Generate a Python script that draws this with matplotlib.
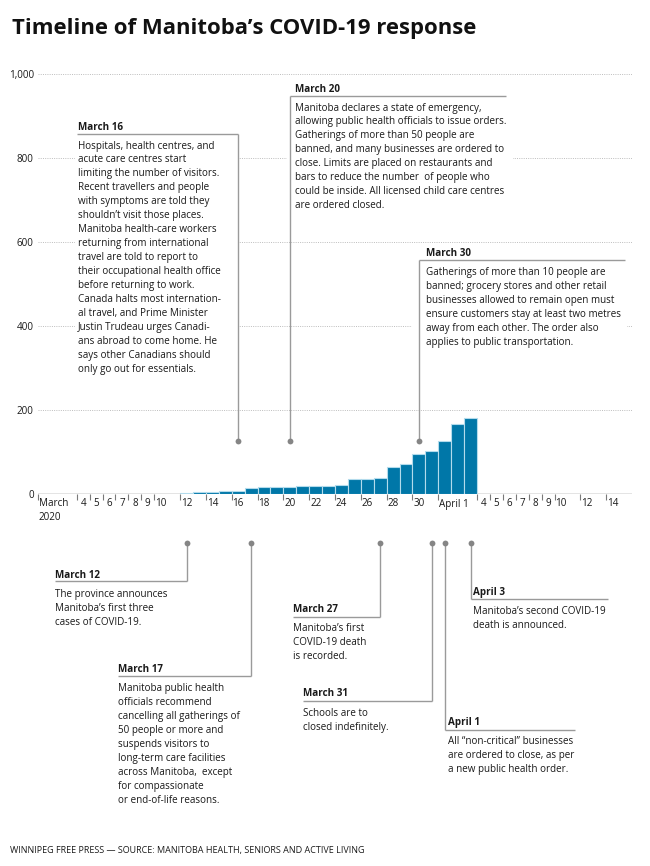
import matplotlib
matplotlib.use("Agg")
import matplotlib.pyplot as plt
from matplotlib import transforms as mtransforms
from matplotlib.patches import Rectangle

plt.rcParams['font.family'] = ['Open Sans', 'DejaVu Sans']

# ---------------- data ----------------
title = "Timeline of Manitoba\u2019s COVID-19 response"
footer = "WINNIPEG FREE PRESS \u2014 SOURCE: MANITOBA HEALTH, SENIORS AND ACTIVE LIVING"

# cumulative cases, March 12 .. April 3
case_month = ["March"] * 20 + ["April"] * 3
case_day = list(range(12, 32)) + [1, 2, 3]
cases = [3, 4, 4, 7, 8, 15, 17, 17, 17, 19, 20, 20, 21, 35, 36, 39, 64, 72, 96, 103, 127, 167, 182]

y_ticks = [0, 200, 400, 600, 800, 1000]
y_tick_labels = ["0", "200", "400", "600", "800", "1,000"]

x_tick_month = ["March"] * 18 + ["April"] * 10
x_tick_day = [1, 4, 5, 6, 7, 8, 9, 10, 12, 14, 16, 18, 20, 22, 24, 26, 28, 30,
              1, 4, 5, 6, 7, 8, 9, 10, 12, 14]
x_tick_text = ["March\n2020", "4", "5", "6", "7", "8", "9", "10", "12", "14", "16", "18", "20",
               "22", "24", "26", "28", "30", "April 1", "4", "5", "6", "7", "8", "9", "10", "12", "14"]

ev_month = ["March", "March", "March", "March", "March", "March", "March", "April", "April"]
ev_day = [16, 20, 30, 12, 17, 27, 31, 1, 3]
ev_title = ["March 16", "March 20", "March 30", "March 12", "March 17", "March 27",
            "March 31", "April 1", "April 3"]
ev_text = [
    ["Hospitals, health centres, and", "acute care centres start",
     "limiting the number of visitors.", "Recent travellers and people",
     "with symptoms are told they", "shouldn\u2019t visit those places.",
     "Manitoba health-care workers", "returning from international",
     "travel are told to report to", "their occupational health office",
     "before returning to work.", "Canada halts most internation-",
     "al travel, and Prime Minister", "Justin Trudeau urges Canadi-",
     "ans abroad to come home. He", "says other Canadians should",
     "only go out for essentials."],
    ["Manitoba declares a state of emergency,",
     "allowing public health officials to issue orders.",
     "Gatherings of more than 50 people are",
     "banned, and many businesses are ordered to",
     "close. Limits are placed on restaurants and",
     "bars to reduce the number  of people who",
     "could be inside. All licensed child care centres",
     "are ordered closed."],
    ["Gatherings of more than 10 people are",
     "banned; grocery stores and other retail",
     "businesses allowed to remain open must",
     "ensure customers stay at least two metres",
     "away from each other. The order also",
     "applies to public transportation."],
    ["The province announces", "Manitoba\u2019s first three", "cases of COVID-19."],
    ["Manitoba public health", "officials recommend", "cancelling all gatherings of",
     "50 people or more and", "suspends visitors to", "long-term care facilities",
     "across Manitoba,  except", "for compassionate", "or end-of-life reasons."],
    ["Manitoba\u2019s first", "COVID-19 death", "is recorded."],
    ["Schools are to", "closed indefinitely."],
    ["All \u201cnon-critical\u201d businesses", "are ordered to close, as per",
     "a new public health order."],
    ["Manitoba\u2019s second COVID-19", "death is announced."],
]

# ---------------- layout (pixels) ----------------
W, H = 650, 866
BLUE = "#0077a8"
GRAY = "#9a9a9a"
TXT = "#1a1a1a"
BODY = 7.15
LS = 13.95

ev_side = ["top", "top", "top", "bottom", "bottom", "bottom", "bottom", "bottom", "bottom"]
ev_tx = [78, 295, 426, 55, 118, 293, 303, 448, 473]
ev_hy = [127, 89, 254, 575, 669, 609, 694, 722, 592]
ev_rule = [134, 96, 260, 581, 676, 617, 701, 730, 599]
ev_far = [77, 506, 625, 55, 118, 293, 303, 575, 608]
ev_mask = [(75, 134, 238, 388), (287, 96, 513, 215), (412, 260, 627, 352),
           None, None, None, None, None, None]


def day_index(month, day):
    return day - 1 if month == "March" else 30 + day


def fy(py):
    return 1 - py / H


def fx(px):
    return px / W


fig = plt.figure(figsize=(W / 100, H / 100), dpi=100)
fig.patch.set_facecolor("white")
ax = fig.add_axes([fx(38), fy(494), 594 / W, 420 / H])
ax.set_xlim(0, 46)
ax.set_ylim(0, 1000)
for s in ax.spines.values():
    s.set_visible(False)

# gridlines
for v in y_ticks[1:]:
    ax.axhline(v, color="#bdbdbd", lw=0.7, ls=(0, (1, 1.3)), zorder=0.5)
ax.axhline(0, color="#7a7a7a", lw=1.0, zorder=2)

# bars
xs = [day_index(m, d) for m, d in zip(case_month, case_day)]
ax.bar(xs, cases, width=1, align="edge", color=BLUE, edgecolor="#b3dbec",
       linewidth=0.8, zorder=3)

# y axis
ax.set_yticks(y_ticks)
ax.set_yticklabels(y_tick_labels, fontsize=BODY, color=TXT)
ax.tick_params(axis="y", length=0, pad=3)

# x axis ticks
tick_x = [day_index(m, d) for m, d in zip(x_tick_month, x_tick_day)]
ax.set_xticks(tick_x)
ax.set_xticklabels([])
ax.tick_params(axis="x", length=4, width=0.8, color="#7a7a7a", direction="out")

xt = mtransforms.blended_transform_factory(ax.transData, fig.transFigure)
for x, lab in zip(tick_x, x_tick_text):
    if lab.startswith("March") or lab.startswith("April"):
        lines = lab.split("\n")
        for i, ln in enumerate(lines):
            ax.text(x + 0.05, fy(504 + i * 14), ln, transform=xt, ha="left", va="center",
                    fontsize=BODY, color=TXT, clip_on=False)
    else:
        ax.text(x + 0.5, fy(504), lab, transform=xt, ha="center", va="center",
                fontsize=BODY, color=TXT, clip_on=False)

# annotations
ft = fig.transFigure
for i in range(len(ev_day)):
    xd = day_index(ev_month[i], ev_day[i]) + 0.5
    side = ev_side[i]
    dot_y = 441 if side == "top" else 543
    if ev_mask[i] is not None:
        x0, y0, x1, y1 = ev_mask[i]
        ax.add_patch(Rectangle((fx(x0), fy(y1)), (x1 - x0) / W, (y1 - y0) / H,
                               transform=ft, facecolor="white", edgecolor="none",
                               zorder=1, clip_on=False))
    ax.plot([xd, xd], [fy(dot_y), fy(ev_rule[i])], transform=xt, color=GRAY,
            lw=1.0, zorder=4, clip_on=False, solid_capstyle="butt")
    ax.plot([xd], [fy(dot_y)], transform=xt, marker="o", ms=4.2, color="#858585",
            mec="none", zorder=5, clip_on=False)
    xdisp = ax.transData.transform((xd, 0))[0]
    xfig = fig.transFigure.inverted().transform((xdisp, 0))[0]
    ax.plot([xfig, fx(ev_far[i])], [fy(ev_rule[i]), fy(ev_rule[i])], transform=ft,
            color=GRAY, lw=1.0, zorder=4, clip_on=False, solid_capstyle="butt")
    ax.text(fx(ev_tx[i]), fy(ev_hy[i]), ev_title[i], transform=ft, ha="left", va="center",
            fontsize=BODY, fontweight="bold", color=TXT, zorder=6, clip_on=False)
    first = ev_hy[i] + (19 if side == "top" else 19.5)
    for j, ln in enumerate(ev_text[i]):
        ax.text(fx(ev_tx[i]), fy(first + j * LS), ln, transform=ft, ha="left", va="center",
                fontsize=BODY, color=TXT, zorder=6, clip_on=False)

# title and footer
fig.text(fx(12), fy(34), title, ha="left", va="baseline", fontsize=15.9,
         fontweight="bold", color="#111111")
fig.text(fx(10), fy(850), footer, ha="left", va="center", fontsize=6.5, color=TXT)

fig.savefig("out.png", dpi=100, facecolor="white")
